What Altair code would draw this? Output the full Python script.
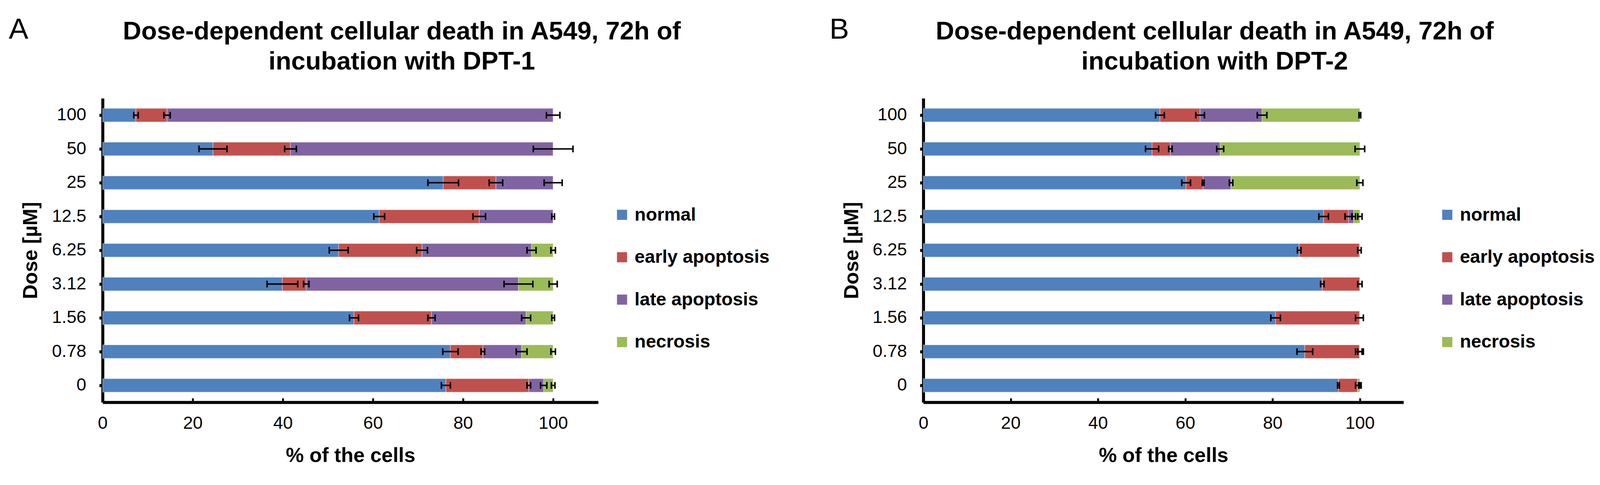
import altair as alt
import pandas as pd

doses = ["100", "50", "25", "12.5", "6.25", "3.12", "1.56", "0.78", "0"]
categories = ["normal", "early apoptosis", "late apoptosis", "necrosis"]
colors = ["#4F81BD", "#C0504D", "#8064A2", "#9BBB59"]
x_ticks = [0, 20, 40, 60, 80, 100]

# Panel A (DPT-1): segment sizes (%) and error bars
a_normal = [7.4, 24.5, 75.6, 61.4, 52.4, 39.9, 55.8, 77.2, 76.2]
a_early = [6.9, 17.2, 11.7, 22.2, 18.5, 5.3, 17.2, 7.2, 18.4]
a_late = [85.7, 58.3, 12.7, 16.4, 24.3, 47.1, 21.0, 8.6, 3.3]
a_necrosis = [0.0, 0.0, 0.0, 0.0, 4.8, 7.7, 6.0, 7.0, 2.1]
a_normal_err = [0.5, 3.1, 3.4, 1.2, 2.1, 3.4, 1.0, 1.7, 1.0]
a_early_err = [0.7, 1.3, 1.5, 1.4, 1.2, 0.6, 0.8, 0.4, 0.4]
a_late_err = [1.5, 4.4, 2.0, 0.3, 1.0, 3.2, 1.0, 1.2, 0.7]
a_necrosis_err = [0.0, 0.0, 0.0, 0.0, 0.5, 0.9, 0.3, 0.5, 0.4]

# Panel B (DPT-2)
b_normal = [54.2, 52.4, 60.2, 91.7, 86.1, 91.4, 80.7, 87.4, 95.1]
b_early = [9.2, 4.2, 3.9, 5.7, 13.8, 8.6, 19.2, 12.5, 4.4]
b_late = [14.2, 11.4, 6.4, 1.2, 0.1, 0.0, 0.1, 0.0, 0.0]
b_necrosis = [22.4, 32.0, 29.5, 1.4, 0.0, 0.0, 0.0, 0.1, 0.5]
b_normal_err = [1.0, 1.5, 1.0, 1.1, 0.4, 0.4, 1.1, 1.8, 0.2]
b_early_err = [1.0, 0.4, 0.2, 0.8, 0.4, 0.5, 0.9, 0.9, 0.5]
b_late_err = [1.1, 0.8, 0.4, 0.4, 0.0, 0.0, 0.0, 0.0, 0.0]
b_necrosis_err = [0.2, 1.1, 0.7, 0.5, 0.0, 0.0, 0.0, 0.5, 0.3]

title_a = ["Dose-dependent cellular death in A549, 72h of", "incubation with DPT-1"]
title_b = ["Dose-dependent cellular death in A549, 72h of", "incubation with DPT-2"]

FONT = "Liberation Sans"


def build_table(series, errs):
    rows = []
    for i, d in enumerate(doses):
        cum = 0.0
        for cat, vals, ev in zip(categories, series, errs):
            start = cum
            cum = cum + vals[i]
            rows.append({"dose": d, "category": cat, "start": start, "end": cum,
                         "err": ev[i], "lo": cum - ev[i], "hi": cum + ev[i]})
    return pd.DataFrame(rows)


def panel(df, label, title_lines, width, legend_x, title_x):
    base = alt.Chart(df)
    y = alt.Y("dose:N", sort=doses,
              scale=alt.Scale(paddingInner=0.6, paddingOuter=0.3),
              axis=alt.Axis(title="Dose [µM]", tickSize=9, tickWidth=8,
                            labelPadding=35, titlePadding=28))
    bars = base.mark_bar(stroke="white", strokeOpacity=0.35, strokeWidth=2).encode(
        x=alt.X("start:Q", scale=alt.Scale(domain=[0, 110], nice=False),
                axis=alt.Axis(title="% of the cells", values=x_ticks,
                              tickSize={"expr": "-11"}, tickWidth=5,
                              labelPadding=44, titlePadding=36)),
        x2="end:Q",
        y=y,
        color=alt.Color("category:N",
                        scale=alt.Scale(domain=categories, range=colors),
                        legend=alt.Legend(title=None, orient="none",
                                          legendX=legend_x, legendY=286,
                                          symbolType="square", symbolSize=729,
                                          symbolStrokeWidth=0, symbolOpacity=1,
                                          labelFont=FONT, labelFontWeight="bold",
                                          labelFontSize=49, labelColor="black",
                                          labelOffset=9, rowPadding=63,
                                          padding=0, labelLimit=600)),
    )
    eb = base.transform_filter("datum.err > 0")
    rule = eb.mark_rule(color="black", strokeWidth=4).encode(
        x="lo:Q", x2="hi:Q", y=alt.Y("dose:N", sort=doses))
    cap_lo = eb.mark_tick(color="black", thickness=4, size=18, opacity=1).encode(
        x="lo:Q", y=alt.Y("dose:N", sort=doses))
    cap_hi = eb.mark_tick(color="black", thickness=4, size=18, opacity=1).encode(
        x="hi:Q", y=alt.Y("dose:N", sort=doses))
    one = alt.Chart(pd.DataFrame({"t": [label]}))
    lab = one.mark_text(font=FONT, fontSize=78, align="left", baseline="alphabetic",
                        color="black").encode(
        text="t:N", x=alt.value(-250), y=alt.value(-159))
    ttl = one.mark_text(font=FONT, fontSize=68, fontWeight="bold", align="center",
                        baseline="alphabetic", lineHeight=80, color="black").encode(
        text=alt.value(title_lines), x=alt.value(title_x), y=alt.value(-157))
    return alt.layer(bars, rule, cap_lo, cap_hi, lab, ttl).properties(
        width=width, height=810)


df_a = build_table([a_normal, a_early, a_late, a_necrosis],
                   [a_normal_err, a_early_err, a_late_err, a_necrosis_err])
df_b = build_table([b_normal, b_early, b_late, b_necrosis],
                   [b_normal_err, b_early_err, b_late_err, b_necrosis_err])

pa = panel(df_a, "A", title_a, 1320, 1359, 797)
pb = panel(df_b, "B", title_b, 1279, 1371, 776)

chart = alt.hconcat(pa, pb, spacing=159).resolve_scale(
    color="independent").resolve_legend(color="independent").properties(
    padding={"left": 15, "top": 8, "right": 5, "bottom": 5},
    background="white",
).configure_view(stroke=None).configure_axis(
    grid=False, domainColor="black", domainWidth=8, tickColor="black",
    labelFont=FONT, labelFontSize=47, labelColor="black",
    titleFont=FONT, titleFontSize=54, titleFontWeight="bold", titleColor="black",
    labelFlush=False,
)

chart.save("out.html", embed_options={"renderer": "svg", "actions": False})
